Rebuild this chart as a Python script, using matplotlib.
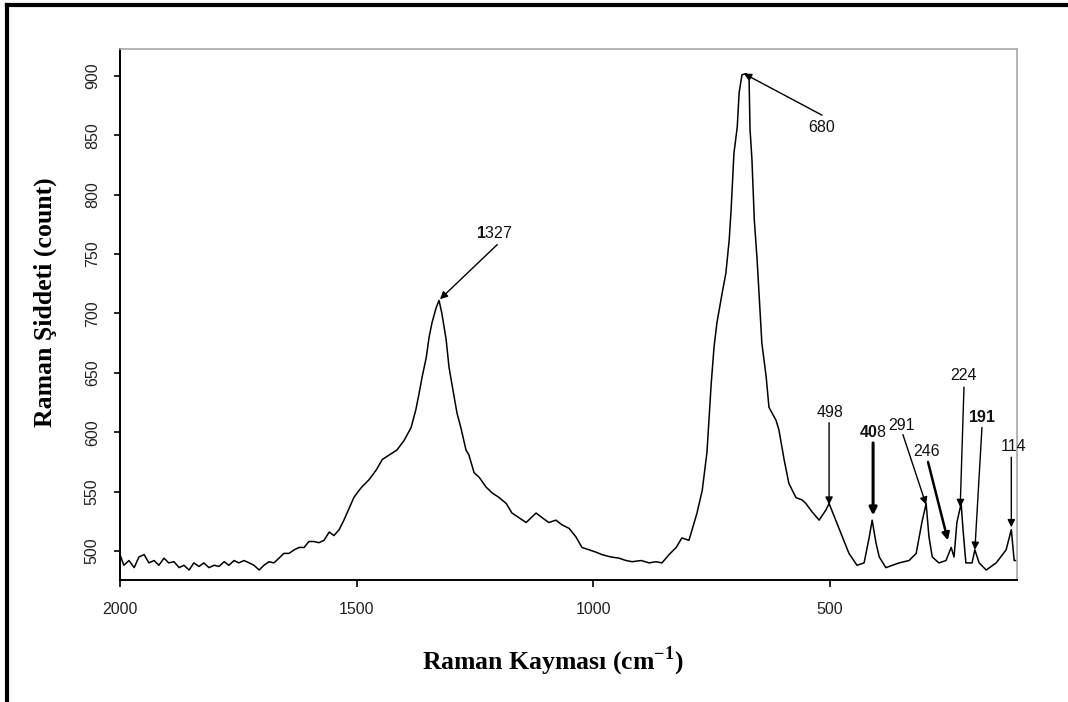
import matplotlib
matplotlib.use("Agg")
import matplotlib.pyplot as plt
from matplotlib.lines import Line2D

plt.rcParams['font.family'] = ['Liberation Sans', 'DejaVu Sans']
plt.rcParams['mathtext.fontset'] = 'custom'
plt.rcParams['mathtext.rm'] = 'Liberation Serif:bold'
plt.rcParams['mathtext.sf'] = 'Liberation Sans:bold'

# ---- data ----
shift = [2000, 1992, 1981, 1970, 1960, 1949, 1939, 1928, 1918, 1907, 1897, 1886, 1875,
         1865, 1854, 1844, 1833, 1823, 1812, 1801, 1791, 1780, 1770, 1759, 1749, 1738,
         1727, 1717, 1706, 1696, 1685, 1675, 1664, 1654, 1643, 1632, 1622, 1611, 1601,
         1590, 1580, 1569, 1558, 1548, 1537, 1527, 1516, 1506, 1495, 1489, 1474, 1459,
         1446, 1427, 1415, 1400, 1385, 1375, 1368, 1362, 1353, 1347, 1341, 1332, 1326,
         1320, 1311, 1305, 1299, 1288, 1280, 1269, 1263, 1252, 1241, 1227, 1214, 1199,
         1184, 1172, 1157, 1142, 1121, 1108, 1094, 1079, 1066, 1051, 1037, 1024, 1009,
         994, 982, 963, 946, 931, 918, 899, 882, 868, 855, 840, 825, 813, 798, 787, 781,
         770, 760, 751, 745, 739, 728, 720, 713, 709, 703, 696, 692, 686, 677, 671, 669,
         665, 660, 654, 650, 644, 635, 629, 614, 608, 597, 587, 572, 559, 551, 538, 523,
         508, 502, 491, 474, 460, 443, 428, 417, 411, 403, 396, 382, 354, 333, 318, 306,
         297, 291, 284, 270, 255, 244, 238, 232, 223, 219, 213, 200, 194, 185, 170, 149,
         128, 117, 111, 107]
intensity = [497, 488, 492, 486, 495, 497, 490, 492, 488, 494, 490, 491, 486,
             488, 484, 490, 487, 490, 486, 488, 487, 491, 488, 492, 490, 492,
             490, 488, 484, 488, 491, 490, 494, 498, 498, 501, 503, 503, 508,
             508, 507, 509, 516, 513, 518, 526, 536, 545, 551, 554, 560, 568,
             577, 582, 585, 593, 604, 619, 633, 646, 663, 680, 692, 705, 711,
             700, 678, 655, 641, 616, 604, 585, 581, 566, 562, 554, 549, 545,
             540, 532, 528, 524, 532, 528, 524, 526, 522, 519, 512, 503, 501,
             499, 497, 495, 494, 492, 491, 492, 490, 491, 490, 497, 503, 511, 509, 524, 532,
             551, 583, 641, 672, 692, 717, 734, 762, 787, 835, 857, 886, 901, 902, 897, 855,
             830, 779, 745, 717, 675, 647, 621, 610, 602, 577, 557, 545, 543, 540, 533, 526,
             535, 540, 529, 512, 498, 488, 490, 512, 526, 507, 495, 486, 490, 492, 498, 524,
             540, 512, 495, 490, 492, 503, 495, 524, 540, 518, 490, 490, 501, 490, 484, 490,
             501, 518, 492, 492]

peak_labels = [r"$\mathsf{1}$327", "680", "498", r"$\mathsf{40}$8", "291", "246", "224",
               r"$\mathsf{191}$", "114"]
tip_x = [1324, 682, 502, 409, 297, 251, 225, 194, 117]
tip_y = [712, 902, 539, 530, 539, 509, 537, 501, 520]
tail_x = [1203, 517, 502, 409, 346, 293, 217, 179, 117]
tail_y = [758, 867, 608, 591, 598, 575, 638, 604, 579]
text_x = [1210, 517, 500, 409, 350, 297, 217, 179, 113]
text_y = [768, 857, 617, 600, 606, 584, 648, 613, 588]
arrow_lw = [1, 1, 1, 2.2, 1, 1.8, 1, 1, 1]

x_ticks = [2000, 1500, 1000, 500]
y_ticks = [500, 550, 600, 650, 700, 750, 800, 850, 900]

# ---- figure ----
fig = plt.figure(figsize=(10.68, 7.02), dpi=100)
ax = fig.add_axes([120/1068, 1 - 580/702, 897/1068, 531/702])

ax.plot(shift, intensity, color='black', lw=1.1)
ax.set_xlim(2000, 105)
ax.set_ylim(475.6, 922.7)

ax.set_xticks(x_ticks)
ax.set_xticklabels([str(v) for v in x_ticks], fontsize=11.5, color='#222222')
ax.set_yticks(y_ticks)
ax.set_yticklabels([str(v) for v in y_ticks], fontsize=11.5, color='#222222',
                   rotation=90, va='center')
ax.tick_params(axis='x', direction='out', length=5, width=1.2, pad=11)
ax.tick_params(axis='y', direction='out', length=4.5, width=1.2, pad=10)

for side in ['left', 'bottom']:
    ax.spines[side].set_color('black')
    ax.spines[side].set_linewidth(1.4)
for side in ['top', 'right']:
    ax.spines[side].set_color('#a8a8a8')
    ax.spines[side].set_linewidth(1.2)

ax.set_xlabel(r"Raman Kayması (cm$^{\mathrm{-1}}$)", family='Liberation Serif',
              fontweight='bold', fontsize=18.5)
ax.xaxis.set_label_coords(0.482, -0.154)
ax.xaxis.label.set_va('center')
ax.set_ylabel("Raman Şiddeti (count)", family='Liberation Serif',
              fontweight='bold', fontsize=18.5)
ax.yaxis.set_label_coords(-0.0836, 0.524)
ax.yaxis.label.set_va('center')

for lab, tx, ty, sx, sy, lx, ly, lw in zip(peak_labels, tip_x, tip_y, tail_x, tail_y,
                                          text_x, text_y, arrow_lw):
    ax.annotate('', xy=(tx, ty), xytext=(sx, sy),
                arrowprops=dict(arrowstyle='-|>', color='black', lw=lw,
                                mutation_scale=11, shrinkA=0, shrinkB=0))
    ax.text(lx, ly, lab, ha='center', va='center', fontsize=11.5, color='#111111')

# outer frame (top and left edges)
fig.add_artist(Line2D([7/1068, 1.0], [1 - 5/702, 1 - 5/702], color='black', lw=3,
                      transform=fig.transFigure))
fig.add_artist(Line2D([7/1068, 7/1068], [1 - 5/702, 0.0], color='black', lw=3,
                      transform=fig.transFigure))

fig.savefig('out.png', dpi=100, facecolor='white')
